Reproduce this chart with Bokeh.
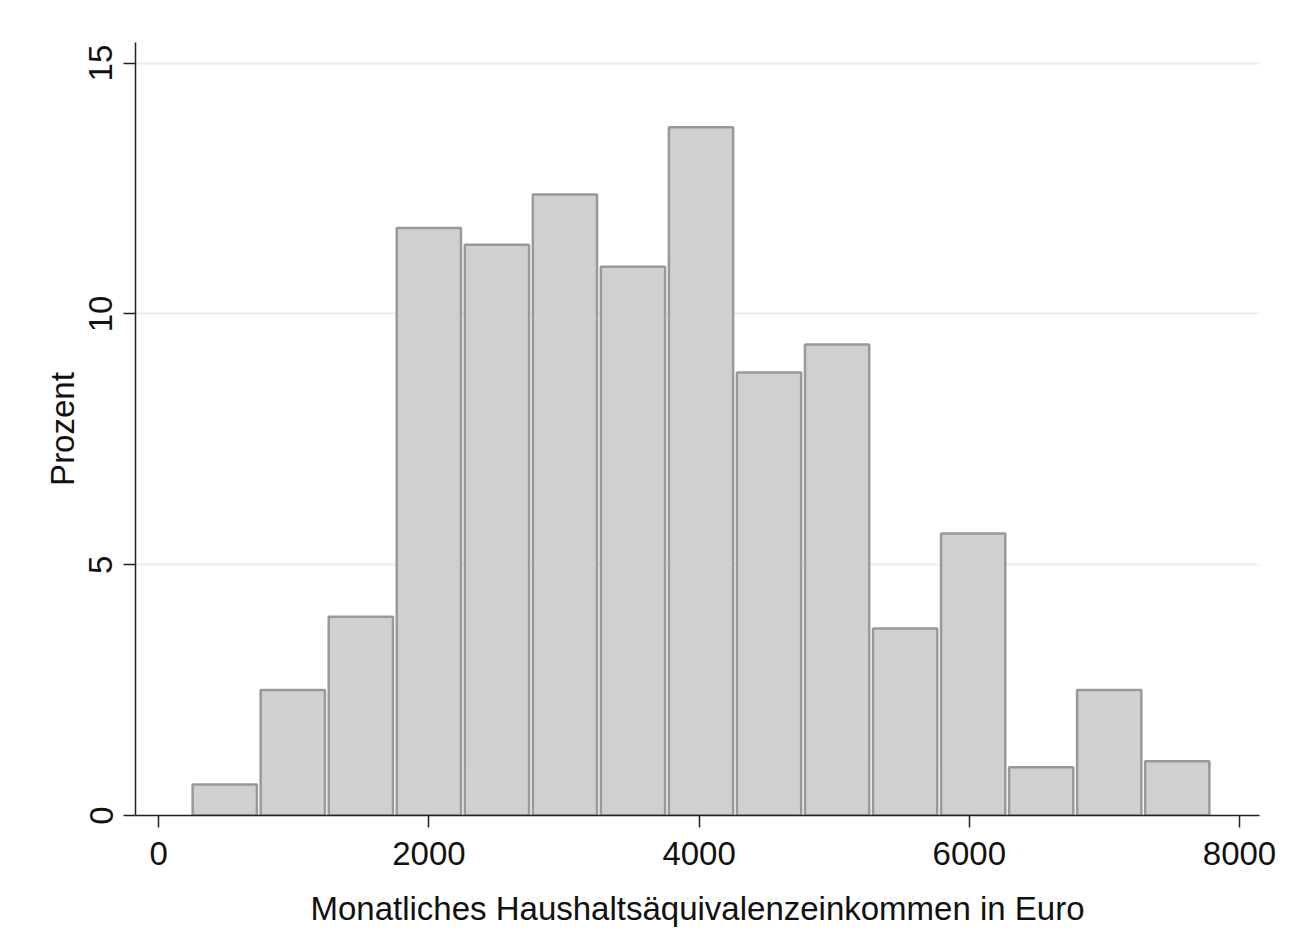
from bokeh.plotting import figure
from bokeh.models import Range1d, FixedTicker
from bokeh.embed import file_html
from bokeh.resources import INLINE

# Histogram data (percent per bin)
bin_start = 237.0
bin_width = 503.6
percent = [0.62, 2.50, 3.96, 11.71, 11.38, 12.38, 10.94, 13.72,
           8.83, 9.39, 3.73, 5.62, 0.96, 2.50, 1.08]
x_ticks = [0, 2000, 4000, 6000, 8000]
y_ticks = [0, 5, 10, 15]
x_title = "Monatliches Haushaltsäquivalenzeinkommen in Euro"
y_title = "Prozent"

FONT = "Liberation Sans"
FS = "33px"

n = len(percent)
lefts = [bin_start + i * bin_width for i in range(n)]
rights = [l + bin_width for l in lefts]
inset = 14.0  # small visual gap between neighbouring bar outlines
lefts_d = [l + inset for l in lefts]
rights_d = [r - inset for r in rights]

p = figure(width=1283, height=938, output_backend="svg", toolbar_location=None,
           x_range=Range1d(-172, 8148), y_range=Range1d(0, 15.41),
           min_border_left=135, min_border_right=24, min_border_top=42,
           min_border_bottom=123)
p.background_fill_color = "white"
p.border_fill_color = "white"
p.outline_line_color = None

p.quad(left=lefts_d, right=rights_d, bottom=0, top=percent,
       fill_color="#d0d0d0", line_color="#999999", line_width=2.5)

# axes
p.xaxis.ticker = FixedTicker(ticks=x_ticks)
p.yaxis.ticker = FixedTicker(ticks=y_ticks)
for ax in (p.xaxis[0], p.yaxis[0]):
    ax.axis_line_color = "#222222"
    ax.axis_line_width = 1.5
    ax.major_tick_line_color = "#222222"
    ax.major_tick_line_width = 1.5
    ax.major_tick_out = 12
    ax.major_tick_in = 0
    ax.minor_tick_line_color = None
    ax.major_label_text_font = FONT
    ax.major_label_text_font_size = FS
    ax.major_label_text_color = "#111111"
    ax.axis_label_text_font = FONT
    ax.axis_label_text_font_size = FS
    ax.axis_label_text_font_style = "normal"
    ax.axis_label_text_color = "#111111"

p.xaxis.axis_label = x_title
p.yaxis.axis_label = y_title
p.xaxis.major_label_standoff = 14
p.xaxis.axis_label_standoff = 22
p.yaxis.major_label_standoff = 11
p.yaxis.axis_label_standoff = 6
p.yaxis.major_label_orientation = "vertical"

p.xgrid.grid_line_color = None
p.ygrid.grid_line_color = "#ececec"
p.ygrid.grid_line_width = 2

open("out.html", "w").write(file_html(p, INLINE))
